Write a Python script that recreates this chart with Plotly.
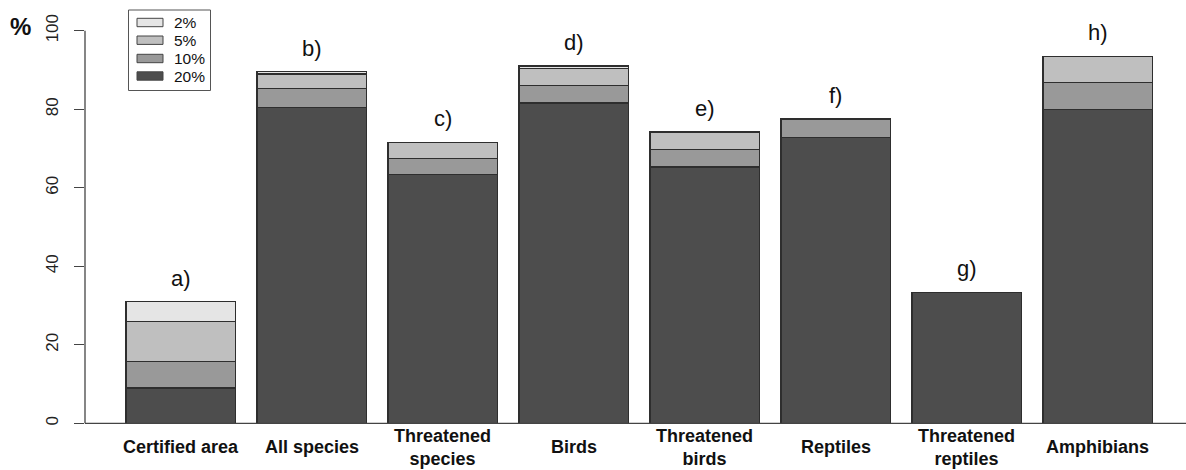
import plotly.graph_objects as go

# Categories (x axis) and their display labels
categories = ["Certified area", "All species", "Threatened species", "Birds",
              "Threatened birds", "Reptiles", "Threatened reptiles", "Amphibians"]
cat_labels = ["Certified area", "All species", "Threatened<br>species", "Birds",
              "Threatened<br>birds", "Reptiles", "Threatened<br>reptiles", "Amphibians"]
panel_tags = ["a)", "b)", "c)", "d)", "e)", "f)", "g)", "h)"]

# Stacked segment heights (%), bottom to top
top20 = [9.0, 80.5, 63.3, 81.6, 65.3, 72.8, 33.4, 80.0]
top10 = [6.7, 4.7, 4.1, 4.5, 4.5, 4.7, 0.0, 6.8]
top5 = [10.2, 3.8, 4.2, 4.3, 4.4, 0.0, 0.0, 6.7]
top2 = [5.1, 0.6, 0.0, 0.6, 0.0, 0.0, 0.0, 0.0]

series_names = ["20%", "10%", "5%", "2%"]
series_values = [top20, top10, top5, top2]
series_colors = ["#4d4d4d", "#999999", "#bfbfbf", "#e5e5e5"]

y_ticks = [0, 20, 40, 60, 80, 100]

FONT = "Liberation Sans, Arial, sans-serif"
W, H = 1186, 470
M_L, M_R, M_T, M_B = 85, 0, 15, 31
PW, PH = W - M_L - M_R, H - M_T - M_B


def px_x(p):
    return (p - M_L) / PW


def px_y(p):
    return (H - M_B - p) / PH


fig = go.Figure()
for name, vals, col in zip(series_names, series_values, series_colors):
    fig.add_trace(go.Bar(
        x=categories, y=vals, name=name, width=1 / 1.2,
        marker=dict(color=col, line=dict(color="#2e2e2e", width=1.3)),
        showlegend=False,
    ))

totals = [sum(v) for v in zip(*series_values)]

annotations = []
# panel tags above each stacked bar
for cat, tot, tag in zip(categories, totals, panel_tags):
    annotations.append(dict(
        x=cat, y=tot, xref="x", yref="y", text=tag, showarrow=False,
        yanchor="bottom", yshift=9, font=dict(family=FONT, size=22, color="#111111"),
    ))

# bold category labels under the bars
for cat, lab in zip(categories, cat_labels):
    annotations.append(dict(
        x=cat, y=px_y(447), xref="x", yref="paper",
        text="<b>" + lab + "</b>",
        showarrow=False, yanchor="middle", xanchor="center",
        font=dict(family=FONT, size=18, color="#111111"),
    ))

# y axis unit
annotations.append(dict(
    x=px_x(20.5), y=px_y(26.5), xref="paper", yref="paper", text="<b>%</b>",
    showarrow=False, xanchor="center", yanchor="middle",
    font=dict(family=FONT, size=24, color="#111111"),
))

shapes = [
    # y axis line from 0 to 100
    dict(type="line", xref="paper", yref="y", x0=0, x1=0, y0=0, y1=100,
         line=dict(color="#444444", width=1.3)),
    # baseline at 0
    dict(type="line", xref="paper", yref="y", x0=0, x1=1, y0=0, y1=0,
         line=dict(color="#444444", width=1.3)),
    # legend frame
    dict(type="rect", xref="paper", yref="paper",
         x0=px_x(128.5), x1=px_x(210.5), y0=px_y(90.5), y1=px_y(10),
         line=dict(color="#555555", width=1), fillcolor="white"),
]

# legend rows, top to bottom: 2%, 5%, 10%, 20%
row_centers = [22.5, 40.2, 58.5, 76]
for (name, col), yc in zip(list(zip(series_names, series_colors))[::-1], row_centers):
    shapes.append(dict(type="rect", xref="paper", yref="paper",
                       x0=px_x(137), x1=px_x(163), y0=px_y(yc + 4.2), y1=px_y(yc - 4.2),
                       line=dict(color="#444444", width=1), fillcolor=col))
    annotations.append(dict(
        x=px_x(172), y=px_y(yc), xref="paper", yref="paper", text=name,
        showarrow=False, xanchor="left", yanchor="middle",
        font=dict(family=FONT, size=15.5, color="#111111"),
    ))

fig.update_layout(
    width=W, height=H,
    margin=dict(l=M_L, r=M_R, t=M_T, b=M_B, pad=0),
    barmode="stack",
    plot_bgcolor="white", paper_bgcolor="white",
    font=dict(family=FONT, color="#222222"),
    xaxis=dict(range=[-0.73, 7.675], showticklabels=False, ticks="",
               showgrid=False, zeroline=False, showline=False, fixedrange=True),
    yaxis=dict(range=[-4, 104], tickvals=y_ticks, ticktext=[str(t) for t in y_ticks],
               ticks="outside", ticklen=10, tickwidth=1.3, tickcolor="#444444",
               tickangle=-90, tickfont=dict(family=FONT, size=17, color="#222222"),
               ticklabelstandoff=9,
               showgrid=False, zeroline=False, showline=False),
    shapes=shapes,
    annotations=annotations,
)

fig.write_html("out.html")
